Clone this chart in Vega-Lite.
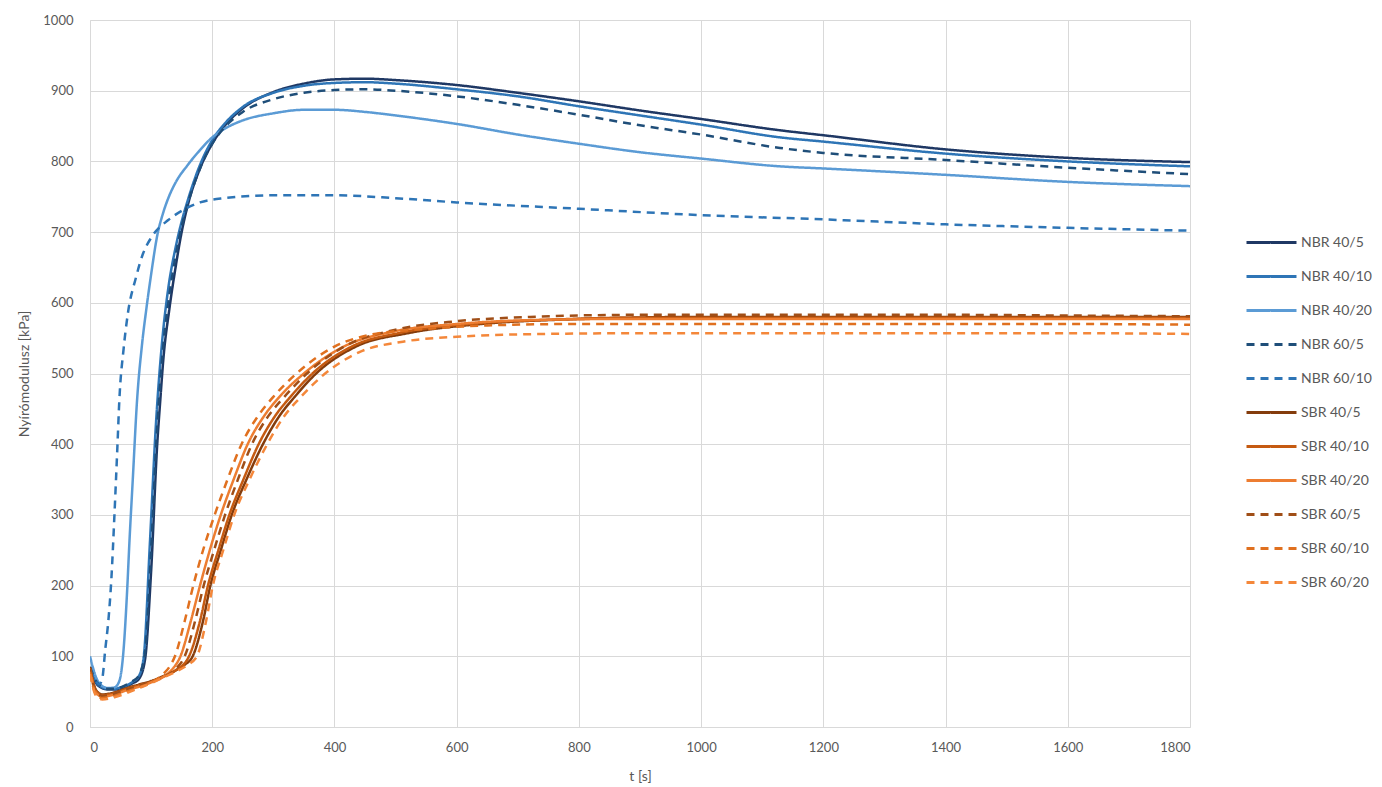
{
  "$schema": "https://vega.github.io/schema/vega-lite/v6.json",
  "width": 1100,
  "height": 707,
  "autosize": {"type": "none"},
  "padding": {"left": 90, "top": 20, "right": 192, "bottom": 60},
  "background": "white",
  "config": {
    "font": "Lato",
    "view": {"stroke": null},
    "axis": {
      "labelColor": "#595959",
      "labelFontSize": 13,
      "titleColor": "#595959",
      "titleFontSize": 14,
      "titleFontWeight": "normal",
      "gridColor": "#D9D9D9",
      "gridWidth": 1,
      "domainColor": "#D9D9D9",
      "ticks": false
    },
    "legend": {
      "labelColor": "#595959",
      "labelFontSize": 14,
      "symbolType": "stroke",
      "symbolStrokeWidth": 3,
      "symbolSize": 2500,
      "rowPadding": -16,
      "labelOffset": 3
    }
  },
  "data": {
    "values": [
      {"s":"NBR 40/5","t":0,"g":80},{"s":"NBR 40/5","t":10,"g":62},{"s":"NBR 40/5","t":20,"g":55},{"s":"NBR 40/5","t":30,"g":53},{"s":"NBR 40/5","t":40,"g":53},{"s":"NBR 40/5","t":50,"g":55},{"s":"NBR 40/5","t":60,"g":58},{"s":"NBR 40/5","t":70,"g":62},{"s":"NBR 40/5","t":80,"g":68},{"s":"NBR 40/5","t":90,"g":95},{"s":"NBR 40/5","t":100,"g":220},{"s":"NBR 40/5","t":110,"g":400},{"s":"NBR 40/5","t":115,"g":462},{"s":"NBR 40/5","t":120,"g":520},{"s":"NBR 40/5","t":130,"g":592},{"s":"NBR 40/5","t":140,"g":650},{"s":"NBR 40/5","t":150,"g":700},{"s":"NBR 40/5","t":160,"g":738},{"s":"NBR 40/5","t":180,"g":790},{"s":"NBR 40/5","t":200,"g":825},{"s":"NBR 40/5","t":220,"g":850},{"s":"NBR 40/5","t":250,"g":875},{"s":"NBR 40/5","t":300,"g":898},{"s":"NBR 40/5","t":350,"g":910},{"s":"NBR 40/5","t":400,"g":916},{"s":"NBR 40/5","t":450,"g":917},{"s":"NBR 40/5","t":500,"g":915},{"s":"NBR 40/5","t":600,"g":908},{"s":"NBR 40/5","t":700,"g":897},{"s":"NBR 40/5","t":800,"g":885},{"s":"NBR 40/5","t":900,"g":872},{"s":"NBR 40/5","t":1000,"g":860},{"s":"NBR 40/5","t":1129,"g":844},{"s":"NBR 40/5","t":1200,"g":837},{"s":"NBR 40/5","t":1400,"g":817},{"s":"NBR 40/5","t":1600,"g":805},{"s":"NBR 40/5","t":1800,"g":799},

      {"s":"NBR 40/10","t":0,"g":85},{"s":"NBR 40/10","t":10,"g":64},{"s":"NBR 40/10","t":20,"g":56},{"s":"NBR 40/10","t":30,"g":54},{"s":"NBR 40/10","t":40,"g":54},{"s":"NBR 40/10","t":50,"g":56},{"s":"NBR 40/10","t":60,"g":59},{"s":"NBR 40/10","t":70,"g":64},{"s":"NBR 40/10","t":80,"g":72},{"s":"NBR 40/10","t":88,"g":100},{"s":"NBR 40/10","t":98,"g":260},{"s":"NBR 40/10","t":108,"g":430},{"s":"NBR 40/10","t":118,"g":545},{"s":"NBR 40/10","t":128,"g":620},{"s":"NBR 40/10","t":140,"g":678},{"s":"NBR 40/10","t":150,"g":715},{"s":"NBR 40/10","t":160,"g":745},{"s":"NBR 40/10","t":180,"g":795},{"s":"NBR 40/10","t":200,"g":830},{"s":"NBR 40/10","t":220,"g":853},{"s":"NBR 40/10","t":250,"g":877},{"s":"NBR 40/10","t":300,"g":897},{"s":"NBR 40/10","t":350,"g":907},{"s":"NBR 40/10","t":400,"g":911},{"s":"NBR 40/10","t":450,"g":912},{"s":"NBR 40/10","t":500,"g":910},{"s":"NBR 40/10","t":600,"g":902},{"s":"NBR 40/10","t":700,"g":892},{"s":"NBR 40/10","t":800,"g":878},{"s":"NBR 40/10","t":900,"g":865},{"s":"NBR 40/10","t":1000,"g":852},{"s":"NBR 40/10","t":1129,"g":834},{"s":"NBR 40/10","t":1200,"g":828},{"s":"NBR 40/10","t":1400,"g":811},{"s":"NBR 40/10","t":1600,"g":800},{"s":"NBR 40/10","t":1800,"g":793},

      {"s":"NBR 40/20","t":0,"g":100},{"s":"NBR 40/20","t":10,"g":70},{"s":"NBR 40/20","t":20,"g":58},{"s":"NBR 40/20","t":30,"g":55},{"s":"NBR 40/20","t":40,"g":56},{"s":"NBR 40/20","t":48,"g":65},{"s":"NBR 40/20","t":55,"g":110},{"s":"NBR 40/20","t":60,"g":180},{"s":"NBR 40/20","t":65,"g":270},{"s":"NBR 40/20","t":70,"g":350},{"s":"NBR 40/20","t":77,"g":462},{"s":"NBR 40/20","t":85,"g":540},{"s":"NBR 40/20","t":92,"g":590},{"s":"NBR 40/20","t":100,"g":640},{"s":"NBR 40/20","t":110,"g":695},{"s":"NBR 40/20","t":120,"g":728},{"s":"NBR 40/20","t":130,"g":752},{"s":"NBR 40/20","t":140,"g":770},{"s":"NBR 40/20","t":160,"g":795},{"s":"NBR 40/20","t":180,"g":816},{"s":"NBR 40/20","t":200,"g":834},{"s":"NBR 40/20","t":220,"g":846},{"s":"NBR 40/20","t":250,"g":858},{"s":"NBR 40/20","t":300,"g":868},{"s":"NBR 40/20","t":350,"g":873},{"s":"NBR 40/20","t":400,"g":873},{"s":"NBR 40/20","t":450,"g":870},{"s":"NBR 40/20","t":500,"g":865},{"s":"NBR 40/20","t":600,"g":853},{"s":"NBR 40/20","t":700,"g":838},{"s":"NBR 40/20","t":800,"g":825},{"s":"NBR 40/20","t":900,"g":813},{"s":"NBR 40/20","t":1000,"g":804},{"s":"NBR 40/20","t":1129,"g":793},{"s":"NBR 40/20","t":1200,"g":790},{"s":"NBR 40/20","t":1400,"g":781},{"s":"NBR 40/20","t":1600,"g":771},{"s":"NBR 40/20","t":1800,"g":765},

      {"s":"NBR 60/5","t":0,"g":85},{"s":"NBR 60/5","t":10,"g":65},{"s":"NBR 60/5","t":20,"g":57},{"s":"NBR 60/5","t":30,"g":54},{"s":"NBR 60/5","t":40,"g":54},{"s":"NBR 60/5","t":50,"g":56},{"s":"NBR 60/5","t":60,"g":60},{"s":"NBR 60/5","t":70,"g":65},{"s":"NBR 60/5","t":80,"g":73},{"s":"NBR 60/5","t":90,"g":105},{"s":"NBR 60/5","t":100,"g":250},{"s":"NBR 60/5","t":110,"g":425},{"s":"NBR 60/5","t":120,"g":540},{"s":"NBR 60/5","t":130,"g":612},{"s":"NBR 60/5","t":140,"g":666},{"s":"NBR 60/5","t":150,"g":708},{"s":"NBR 60/5","t":160,"g":740},{"s":"NBR 60/5","t":180,"g":790},{"s":"NBR 60/5","t":200,"g":825},{"s":"NBR 60/5","t":220,"g":848},{"s":"NBR 60/5","t":250,"g":870},{"s":"NBR 60/5","t":300,"g":888},{"s":"NBR 60/5","t":350,"g":897},{"s":"NBR 60/5","t":400,"g":901},{"s":"NBR 60/5","t":450,"g":902},{"s":"NBR 60/5","t":500,"g":900},{"s":"NBR 60/5","t":600,"g":892},{"s":"NBR 60/5","t":700,"g":880},{"s":"NBR 60/5","t":800,"g":866},{"s":"NBR 60/5","t":900,"g":851},{"s":"NBR 60/5","t":1000,"g":838},{"s":"NBR 60/5","t":1129,"g":819},{"s":"NBR 60/5","t":1200,"g":812},{"s":"NBR 60/5","t":1400,"g":802},{"s":"NBR 60/5","t":1600,"g":791},{"s":"NBR 60/5","t":1800,"g":782},

      {"s":"NBR 60/10","t":0,"g":82},{"s":"NBR 60/10","t":10,"g":65},{"s":"NBR 60/10","t":15,"g":60},{"s":"NBR 60/10","t":20,"g":68},{"s":"NBR 60/10","t":25,"g":110},{"s":"NBR 60/10","t":30,"g":150},{"s":"NBR 60/10","t":35,"g":210},{"s":"NBR 60/10","t":40,"g":300},{"s":"NBR 60/10","t":45,"g":400},{"s":"NBR 60/10","t":48,"g":462},{"s":"NBR 60/10","t":55,"g":535},{"s":"NBR 60/10","t":62,"g":585},{"s":"NBR 60/10","t":75,"g":635},{"s":"NBR 60/10","t":87,"g":670},{"s":"NBR 60/10","t":100,"g":692},{"s":"NBR 60/10","t":128,"g":717},{"s":"NBR 60/10","t":150,"g":730},{"s":"NBR 60/10","t":180,"g":742},{"s":"NBR 60/10","t":220,"g":748},{"s":"NBR 60/10","t":300,"g":752},{"s":"NBR 60/10","t":400,"g":752},{"s":"NBR 60/10","t":500,"g":748},{"s":"NBR 60/10","t":600,"g":742},{"s":"NBR 60/10","t":800,"g":733},{"s":"NBR 60/10","t":1000,"g":724},{"s":"NBR 60/10","t":1200,"g":718},{"s":"NBR 60/10","t":1400,"g":711},{"s":"NBR 60/10","t":1600,"g":706},{"s":"NBR 60/10","t":1800,"g":702},

      {"s":"SBR 40/5","t":0,"g":85},{"s":"SBR 40/5","t":10,"g":52},{"s":"SBR 40/5","t":20,"g":46},{"s":"SBR 40/5","t":40,"g":49},{"s":"SBR 40/5","t":60,"g":55},{"s":"SBR 40/5","t":80,"g":60},{"s":"SBR 40/5","t":100,"g":65},{"s":"SBR 40/5","t":120,"g":72},{"s":"SBR 40/5","t":140,"g":80},{"s":"SBR 40/5","t":155,"g":88},{"s":"SBR 40/5","t":168,"g":100},{"s":"SBR 40/5","t":185,"g":150},{"s":"SBR 40/5","t":197,"g":200},{"s":"SBR 40/5","t":214,"g":250},{"s":"SBR 40/5","t":232,"g":300},{"s":"SBR 40/5","t":256,"g":350},{"s":"SBR 40/5","t":283,"g":400},{"s":"SBR 40/5","t":310,"g":440},{"s":"SBR 40/5","t":335,"g":467},{"s":"SBR 40/5","t":370,"g":500},{"s":"SBR 40/5","t":435,"g":538},{"s":"SBR 40/5","t":520,"g":557},{"s":"SBR 40/5","t":640,"g":570},{"s":"SBR 40/5","t":800,"g":577},{"s":"SBR 40/5","t":1000,"g":580},{"s":"SBR 40/5","t":1200,"g":580},{"s":"SBR 40/5","t":1400,"g":580},{"s":"SBR 40/5","t":1600,"g":580},{"s":"SBR 40/5","t":1800,"g":580},

      {"s":"SBR 40/10","t":0,"g":83},{"s":"SBR 40/10","t":10,"g":51},{"s":"SBR 40/10","t":20,"g":45},{"s":"SBR 40/10","t":40,"g":48},{"s":"SBR 40/10","t":60,"g":54},{"s":"SBR 40/10","t":80,"g":59},{"s":"SBR 40/10","t":100,"g":64},{"s":"SBR 40/10","t":120,"g":71},{"s":"SBR 40/10","t":140,"g":80},{"s":"SBR 40/10","t":162,"g":100},{"s":"SBR 40/10","t":180,"g":150},{"s":"SBR 40/10","t":193,"g":200},{"s":"SBR 40/10","t":210,"g":250},{"s":"SBR 40/10","t":228,"g":300},{"s":"SBR 40/10","t":251,"g":350},{"s":"SBR 40/10","t":276,"g":400},{"s":"SBR 40/10","t":303,"g":440},{"s":"SBR 40/10","t":328,"g":467},{"s":"SBR 40/10","t":364,"g":500},{"s":"SBR 40/10","t":428,"g":538},{"s":"SBR 40/10","t":510,"g":558},{"s":"SBR 40/10","t":620,"g":570},{"s":"SBR 40/10","t":750,"g":576},{"s":"SBR 40/10","t":900,"g":579},{"s":"SBR 40/10","t":1200,"g":579},{"s":"SBR 40/10","t":1400,"g":579},{"s":"SBR 40/10","t":1600,"g":579},{"s":"SBR 40/10","t":1800,"g":579},

      {"s":"SBR 40/20","t":0,"g":80},{"s":"SBR 40/20","t":10,"g":48},{"s":"SBR 40/20","t":20,"g":43},{"s":"SBR 40/20","t":40,"g":46},{"s":"SBR 40/20","t":60,"g":52},{"s":"SBR 40/20","t":80,"g":57},{"s":"SBR 40/20","t":100,"g":63},{"s":"SBR 40/20","t":120,"g":71},{"s":"SBR 40/20","t":135,"g":82},{"s":"SBR 40/20","t":148,"g":100},{"s":"SBR 40/20","t":165,"g":150},{"s":"SBR 40/20","t":180,"g":200},{"s":"SBR 40/20","t":196,"g":250},{"s":"SBR 40/20","t":214,"g":300},{"s":"SBR 40/20","t":235,"g":350},{"s":"SBR 40/20","t":258,"g":400},{"s":"SBR 40/20","t":285,"g":440},{"s":"SBR 40/20","t":310,"g":467},{"s":"SBR 40/20","t":350,"g":500},{"s":"SBR 40/20","t":415,"g":538},{"s":"SBR 40/20","t":500,"g":560},{"s":"SBR 40/20","t":600,"g":570},{"s":"SBR 40/20","t":700,"g":575},{"s":"SBR 40/20","t":850,"g":577},{"s":"SBR 40/20","t":1000,"g":577},{"s":"SBR 40/20","t":1200,"g":577},{"s":"SBR 40/20","t":1400,"g":577},{"s":"SBR 40/20","t":1600,"g":577},{"s":"SBR 40/20","t":1800,"g":577},

      {"s":"SBR 60/5","t":0,"g":82},{"s":"SBR 60/5","t":10,"g":50},{"s":"SBR 60/5","t":20,"g":44},{"s":"SBR 60/5","t":40,"g":47},{"s":"SBR 60/5","t":60,"g":53},{"s":"SBR 60/5","t":80,"g":58},{"s":"SBR 60/5","t":100,"g":64},{"s":"SBR 60/5","t":120,"g":71},{"s":"SBR 60/5","t":140,"g":82},{"s":"SBR 60/5","t":155,"g":100},{"s":"SBR 60/5","t":172,"g":150},{"s":"SBR 60/5","t":186,"g":200},{"s":"SBR 60/5","t":203,"g":250},{"s":"SBR 60/5","t":221,"g":300},{"s":"SBR 60/5","t":242,"g":350},{"s":"SBR 60/5","t":265,"g":400},{"s":"SBR 60/5","t":292,"g":440},{"s":"SBR 60/5","t":318,"g":467},{"s":"SBR 60/5","t":355,"g":500},{"s":"SBR 60/5","t":420,"g":540},{"s":"SBR 60/5","t":500,"g":562},{"s":"SBR 60/5","t":600,"g":574},{"s":"SBR 60/5","t":720,"g":580},{"s":"SBR 60/5","t":900,"g":583},{"s":"SBR 60/5","t":1200,"g":583},{"s":"SBR 60/5","t":1400,"g":583},{"s":"SBR 60/5","t":1600,"g":582},{"s":"SBR 60/5","t":1800,"g":581},

      {"s":"SBR 60/10","t":0,"g":78},{"s":"SBR 60/10","t":10,"g":46},{"s":"SBR 60/10","t":20,"g":41},{"s":"SBR 60/10","t":40,"g":44},{"s":"SBR 60/10","t":60,"g":50},{"s":"SBR 60/10","t":80,"g":56},{"s":"SBR 60/10","t":100,"g":63},{"s":"SBR 60/10","t":120,"g":75},{"s":"SBR 60/10","t":130,"g":85},{"s":"SBR 60/10","t":139,"g":100},{"s":"SBR 60/10","t":155,"g":150},{"s":"SBR 60/10","t":169,"g":200},{"s":"SBR 60/10","t":185,"g":250},{"s":"SBR 60/10","t":204,"g":300},{"s":"SBR 60/10","t":225,"g":350},{"s":"SBR 60/10","t":248,"g":400},{"s":"SBR 60/10","t":275,"g":440},{"s":"SBR 60/10","t":300,"g":467},{"s":"SBR 60/10","t":338,"g":500},{"s":"SBR 60/10","t":400,"g":538},{"s":"SBR 60/10","t":460,"g":555},{"s":"SBR 60/10","t":550,"g":563},{"s":"SBR 60/10","t":650,"g":568},{"s":"SBR 60/10","t":800,"g":570},{"s":"SBR 60/10","t":1000,"g":570},{"s":"SBR 60/10","t":1200,"g":570},{"s":"SBR 60/10","t":1400,"g":570},{"s":"SBR 60/10","t":1600,"g":570},{"s":"SBR 60/10","t":1800,"g":569},

      {"s":"SBR 60/20","t":0,"g":75},{"s":"SBR 60/20","t":10,"g":44},{"s":"SBR 60/20","t":20,"g":39},{"s":"SBR 60/20","t":40,"g":42},{"s":"SBR 60/20","t":60,"g":48},{"s":"SBR 60/20","t":80,"g":55},{"s":"SBR 60/20","t":100,"g":62},{"s":"SBR 60/20","t":120,"g":70},{"s":"SBR 60/20","t":140,"g":78},{"s":"SBR 60/20","t":160,"g":88},{"s":"SBR 60/20","t":175,"g":100},{"s":"SBR 60/20","t":190,"g":150},{"s":"SBR 60/20","t":201,"g":200},{"s":"SBR 60/20","t":218,"g":250},{"s":"SBR 60/20","t":236,"g":300},{"s":"SBR 60/20","t":261,"g":350},{"s":"SBR 60/20","t":290,"g":400},{"s":"SBR 60/20","t":318,"g":440},{"s":"SBR 60/20","t":343,"g":465},{"s":"SBR 60/20","t":378,"g":495},{"s":"SBR 60/20","t":440,"g":530},{"s":"SBR 60/20","t":512,"g":545},{"s":"SBR 60/20","t":600,"g":552},{"s":"SBR 60/20","t":750,"g":556},{"s":"SBR 60/20","t":900,"g":557},{"s":"SBR 60/20","t":1200,"g":557},{"s":"SBR 60/20","t":1400,"g":557},{"s":"SBR 60/20","t":1600,"g":557},{"s":"SBR 60/20","t":1800,"g":556}
    ]
  },
  "mark": {"type": "line", "interpolate": "monotone", "strokeWidth": 2.5, "clip": true},
  "encoding": {
    "x": {
      "field": "t",
      "type": "quantitative",
      "title": "t [s]",
      "scale": {"domain": [0, 1800], "nice": false},
      "axis": {"values": [0,200,400,600,800,1000,1200,1400,1600,1800], "format": "d", "labelPadding": 14, "titlePadding": 15}
    },
    "y": {
      "field": "g",
      "type": "quantitative",
      "title": "Nyírómodulusz [kPa]",
      "scale": {"domain": [0, 1000], "nice": false},
      "axis": {"values": [0,100,200,300,400,500,600,700,800,900,1000], "format": "d", "labelPadding": 17, "titlePadding": 11}
    },
    "color": {
      "field": "s",
      "type": "nominal",
      "title": null,
      "scale": {
        "domain": ["NBR 40/5","NBR 40/10","NBR 40/20","NBR 60/5","NBR 60/10","SBR 40/5","SBR 40/10","SBR 40/20","SBR 60/5","SBR 60/10","SBR 60/20"],
        "range": ["#1F3864","#2E75B6","#5B9BD5","#1F4E79","#2E75B6","#843C0C","#C55A11","#ED7D31","#A04E17","#E0701F","#F4873A"]
      },
      "legend": {"orient": "none", "legendX": 1155, "legendY": 196}
    },
    "strokeDash": {
      "field": "s",
      "type": "nominal",
      "title": null,
      "scale": {
        "domain": ["NBR 40/5","NBR 40/10","NBR 40/20","NBR 60/5","NBR 60/10","SBR 40/5","SBR 40/10","SBR 40/20","SBR 60/5","SBR 60/10","SBR 60/20"],
        "range": [[1,0],[1,0],[1,0],[8,6],[8,6],[1,0],[1,0],[1,0],[8,6],[8,6],[8,6]]
      },
      "legend": {"orient": "none", "legendX": 1155, "legendY": 196}
    }
  }
}
